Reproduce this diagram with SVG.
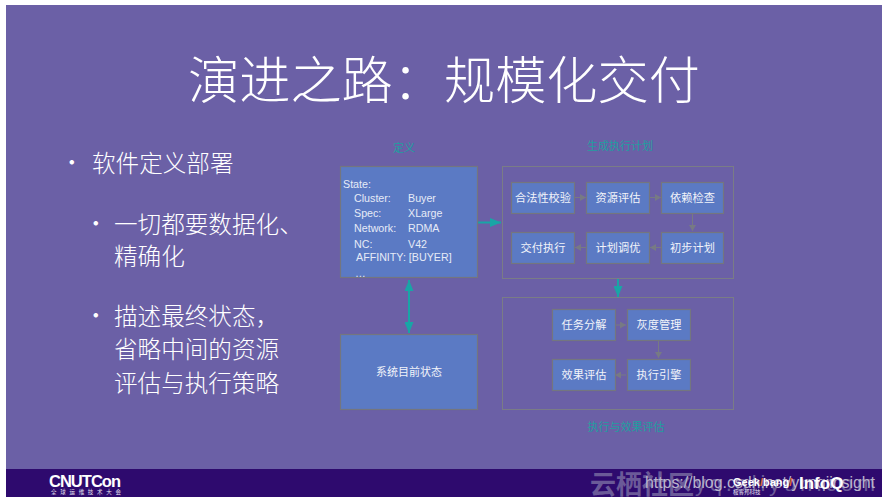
<svg xmlns="http://www.w3.org/2000/svg" width="886" height="501" viewBox="0 0 886 501">
<style>
text{font-family:"Liberation Sans","Noto Sans CJK SC",sans-serif}
.cjk{font-family:"Noto Sans CJK SC","Liberation Sans",sans-serif}
.big{fill:#fff;font-size:23.600px;font-weight:300}
.box{fill:#5b7ac4;stroke:#74767f;stroke-width:1.2}
.frame{fill:none;stroke:#7a7c86;stroke-width:1}
.l{fill:#f2f4fa;font-size:11.200px;text-anchor:middle}
.s{fill:#e6ebf7;font-size:10.700px}
.cap{fill:#1f9ea0;font-size:11px;text-anchor:middle}
.g{stroke:#777a84;stroke-width:1;fill:none;marker-end:url(#ga)}
.t{stroke:#19a5a6;stroke-width:2;fill:none}
</style>
<defs>
<marker id="ga" markerUnits="userSpaceOnUse" markerWidth="7" markerHeight="7" refX="6" refY="3.5" orient="auto"><path d="M0 0L6 3.5L0 7z" fill="#777a84"/></marker>
<marker id="ta" markerUnits="userSpaceOnUse" markerWidth="12" markerHeight="9" refX="11" refY="4.500" orient="auto-start-reverse"><path d="M0 0L11 4.500L0 9z" fill="#19a5a6"/></marker>
</defs>
<rect width="886" height="501" fill="#fff"/>
<rect x="6" y="5" width="876" height="492" fill="#6b60a6"/>
<rect x="6" y="469" width="876" height="28" fill="#2e0a6e"/>
<text class="cjk" x="444" y="99" fill="#fff" font-size="51.200" font-weight="300" text-anchor="middle">演进之路：规模化交付</text>
<g id="bullets">
<text class="big cjk" x="60" y="171">·</text><text class="big cjk" x="92" y="172">软件定义部署</text>
<text class="big cjk" x="84" y="232">·</text><text class="big cjk" x="114" y="233">一切都要数据化、</text>
<text class="big cjk" x="114" y="265">精确化</text>
<text class="big cjk" x="84" y="324">·</text><text class="big cjk" x="114" y="325">描述最终状态，</text>
<text class="big cjk" x="114" y="358">省略中间的资源</text>
<text class="big cjk" x="114" y="392">评估与执行策略</text>
</g>
<g id="connectors">
<path class="t" d="M477 222.500H501" marker-end="url(#ta)"/>
<path class="t" d="M409 280V333" marker-start="url(#ta)" marker-end="url(#ta)"/>
<path class="t" d="M618 278V297" marker-end="url(#ta)"/>
<path class="g" d="M575 197.500H586"/><path class="g" d="M650 197.500H661"/>
<path class="g" d="M692.500 213V231"/>
<path class="g" d="M661 247.500H650"/><path class="g" d="M586 247.500H575"/>
<path class="g" d="M615 325H626"/><path class="g" d="M658.500 341V358"/><path class="g" d="M626 375H615"/>
</g>
<g id="state"><rect class="box" x="340.500" y="166.500" width="137" height="111"/>
<text class="s" x="343" y="188">State:</text>
<text class="s" x="354" y="202">Cluster:</text><text class="s" x="408" y="202">Buyer</text>
<text class="s" x="354" y="217">Spec:</text><text class="s" x="408" y="217">XLarge</text>
<text class="s" x="354" y="232">Network:</text><text class="s" x="408" y="232">RDMA</text>
<text class="s" x="354" y="248">NC:</text><text class="s" x="408" y="248">V42</text>
<text class="s" x="356" y="261">AFFINITY: [BUYER]</text>
<text class="s" x="355" y="277">…</text></g>
<g id="current"><rect class="box" x="340.500" y="334.500" width="137" height="75"/><text class="l cjk" style="font-size:11px" x="409" y="376">系统目前状态</text></g>
<text class="cap cjk" x="404" y="152">定义</text>
<text class="cap cjk" x="620" y="150">生成执行计划</text>
<text class="cap cjk" x="626" y="431">执行与效果评估</text>
<rect class="frame" x="502.500" y="166.500" width="231" height="112"/>
<rect class="frame" x="502.500" y="297.500" width="231" height="112"/>
<g id="n1"><rect class="box" x="511.500" y="182.500" width="63" height="31"/><text class="l cjk" x="543" y="201.500">合法性校验</text></g>
<g id="n2"><rect class="box" x="586.500" y="182.500" width="63" height="31"/><text class="l cjk" x="618" y="201.500">资源评估</text></g>
<g id="n3"><rect class="box" x="661.500" y="182.500" width="62" height="31"/><text class="l cjk" x="692.500" y="201.500">依赖检查</text></g>
<g id="n4"><rect class="box" x="511.500" y="232.500" width="63" height="31"/><text class="l cjk" x="543" y="251.500">交付执行</text></g>
<g id="n5"><rect class="box" x="586.500" y="232.500" width="63" height="31"/><text class="l cjk" x="618" y="251.500">计划调优</text></g>
<g id="n6"><rect class="box" x="661.500" y="232.500" width="62" height="31"/><text class="l cjk" x="692.500" y="251.500">初步计划</text></g>
<g id="n7"><rect class="box" x="552.500" y="309.500" width="63" height="31"/><text class="l cjk" x="584" y="329">任务分解</text></g>
<g id="n8"><rect class="box" x="627.500" y="309.500" width="63" height="31"/><text class="l cjk" x="659" y="329">灰度管理</text></g>
<g id="n9"><rect class="box" x="552.500" y="359.500" width="63" height="31"/><text class="l cjk" x="584" y="379">效果评估</text></g>
<g id="n10"><rect class="box" x="627.500" y="359.500" width="63" height="31"/><text class="l cjk" x="659" y="379">执行引擎</text></g>
<g id="footer">
<text x="49" y="487" fill="#fff" font-size="16.500" font-weight="700" textLength="72">CNUTCon</text>
<text class="cjk" x="51" y="494" fill="#e8e4f2" font-size="5.500" textLength="70">全球运维技术大会</text>
<text class="cjk" x="590" y="494" fill="#6b5a98" font-size="26" font-weight="700">云栖社区</text>
<text x="695" y="491" fill="#6b5a98" font-size="22" textLength="180">yq.aliyun.com</text>
<text x="645" y="488" fill="#b9b4cc" font-size="16" textLength="230">https://blog.csdn.net/yunqiinsight</text>
<text x="733" y="486" fill="#fff" font-size="11" font-weight="700">Geek<tspan fill="#e8702a">/</tspan>bang<tspan fill="#e8702a">/</tspan></text>
<text class="cjk" x="733" y="494" fill="#e8e4f2" font-size="5.500">极客邦科技</text>
<text x="799" y="489" fill="#fff" font-size="17" font-weight="700">InfoQ</text>
</g>
</svg>
